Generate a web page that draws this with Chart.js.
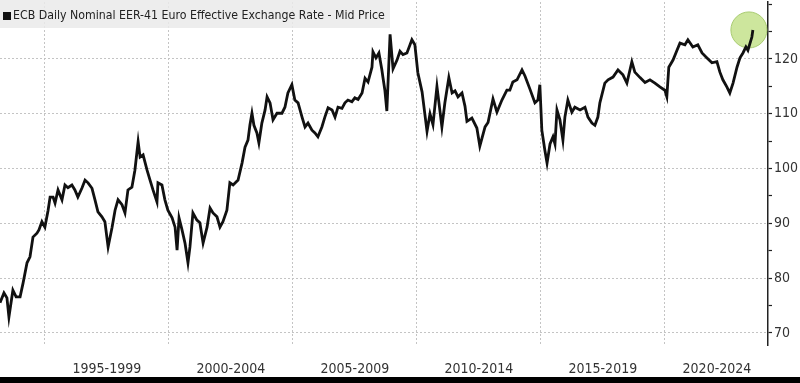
<!DOCTYPE html>
<html>
<head>
<meta charset="utf-8">
<title>ECB Daily Nominal EER-41</title>
<script src="https://cdn.jsdelivr.net/npm/chart.js@4"></script>
<style>
    body { margin: 0; background: #fff; }
    canvas { display: block; }
</style>
</head>
<body>
<canvas id="eerChart" width="800" height="383"></canvas>
<script>
const seriesName = "ECB Daily Nominal EER-41 Euro Effective Exchange Rate - Mid Price";

// dates as decimal years
const dates = [1993.19, 1993.35, 1993.47, 1993.55, 1993.71, 1993.84, 1994.00, 1994.12, 1994.28, 1994.40,
    1994.52, 1994.68, 1994.76, 1994.88, 1995.00, 1995.13, 1995.21, 1995.33, 1995.41, 1995.53,
    1995.69, 1995.81, 1995.93, 1996.09, 1996.21, 1996.33, 1996.50, 1996.62, 1996.74, 1996.90,
    1997.02, 1997.14, 1997.30, 1997.42, 1997.55, 1997.71, 1997.83, 1997.95, 1998.11, 1998.23,
    1998.35, 1998.51, 1998.63, 1998.76, 1998.84, 1998.96, 1999.12, 1999.24, 1999.36, 1999.52,
    1999.56, 1999.72, 1999.84, 1999.96, 2000.13, 2000.25, 2000.33, 2000.41, 2000.53, 2000.65,
    2000.77, 2000.85, 2000.97, 2001.13, 2001.25, 2001.38, 2001.54, 2001.66, 2001.78, 2001.94,
    2002.06, 2002.18, 2002.34, 2002.46, 2002.59, 2002.79, 2002.95, 2003.07, 2003.19, 2003.27,
    2003.35, 2003.43, 2003.55, 2003.63, 2003.75, 2003.88, 2003.96, 2004.08, 2004.20, 2004.36,
    2004.56, 2004.68, 2004.80, 2004.96, 2005.08, 2005.21, 2005.37, 2005.49, 2005.61, 2005.77,
    2005.89, 2006.01, 2006.17, 2006.29, 2006.42, 2006.58, 2006.70, 2006.82, 2006.98, 2007.10,
    2007.22, 2007.38, 2007.50, 2007.63, 2007.79, 2007.91, 2008.03, 2008.19, 2008.23, 2008.35,
    2008.47, 2008.59, 2008.63, 2008.71, 2008.79, 2008.92, 2009.04, 2009.20, 2009.32, 2009.44,
    2009.60, 2009.80, 2009.92, 2010.04, 2010.21, 2010.41, 2010.53, 2010.65, 2010.81, 2011.01,
    2011.13, 2011.29, 2011.42, 2011.54, 2011.66, 2011.82, 2011.94, 2012.02, 2012.22, 2012.42,
    2012.54, 2012.75, 2012.87, 2013.07, 2013.23, 2013.43, 2013.63, 2013.75, 2013.87, 2014.04,
    2014.24, 2014.36, 2014.56, 2014.76, 2014.88, 2014.96, 2015.04, 2015.16, 2015.25, 2015.37,
    2015.49, 2015.57, 2015.65, 2015.77, 2015.89, 2015.97, 2016.09, 2016.25, 2016.37, 2016.58,
    2016.78, 2016.90, 2017.06, 2017.18, 2017.30, 2017.38, 2017.58, 2017.71, 2017.91, 2018.11,
    2018.31, 2018.47, 2018.67, 2018.79, 2019.00, 2019.20, 2019.40, 2019.60, 2019.80, 2020.00,
    2020.08, 2020.16, 2020.33, 2020.49, 2020.61, 2020.81, 2020.93, 2021.13, 2021.33, 2021.50,
    2021.70, 2021.90, 2022.10, 2022.22, 2022.34, 2022.50, 2022.62, 2022.75, 2022.91, 2023.03,
    2023.15, 2023.27, 2023.35, 2023.51, 2023.55];

const eerValues = [75.5, 77.3, 76.4, 72.9, 77.8, 76.6, 76.6, 79.1, 82.8, 83.9,
    87.5, 88.2, 88.8, 90.3, 89.3, 92.4, 94.8, 94.8, 93.7, 96.1,
    94.3, 97.0, 96.5, 97.0, 96.1, 94.8, 96.5, 97.9, 97.4, 96.4,
    94.3, 92.1, 91.2, 90.3, 85.7, 89.3, 92.4, 94.3, 93.4, 91.9,
    96.1, 96.6, 99.7, 104.9, 102.1, 102.5, 99.7, 97.9, 96.1, 93.9,
    97.4, 97.0, 94.3, 92.4, 91.0, 89.3, 85.1, 91.0, 88.8, 86.4,
    82.8, 85.7, 91.9, 90.6, 90.1, 86.4, 89.3, 92.8, 91.9, 91.2,
    89.3, 90.3, 92.4, 97.4, 97.0, 97.9, 101.0, 103.9, 105.2, 108.0,
    110.1, 107.9, 106.5, 104.7, 108.3, 110.7, 113.1, 112.0, 108.9, 110.1,
    110.1, 111.2, 113.8, 115.3, 112.5, 112.0, 109.4, 107.6, 108.3, 107.0,
    106.5, 105.8, 107.6, 109.4, 111.1, 110.7, 109.4, 111.2, 111.0, 112.0,
    112.5, 112.2, 112.9, 112.6, 113.8, 116.5, 115.8, 118.5, 121.3, 120.2,
    121.1, 118.0, 116.7, 114.3, 110.5, 124.5, 118.2, 119.8, 121.4, 120.8,
    121.1, 123.5, 122.6, 117.5, 114.0, 106.8, 110.0, 108.0, 115.0, 107.6,
    112.0, 116.6, 113.8, 114.2, 113.1, 113.8, 111.4, 108.6, 109.2, 107.4,
    104.1, 107.6, 108.4, 112.7, 110.3, 112.5, 114.3, 114.3, 115.8, 116.2,
    118.0, 116.9, 114.5, 112.0, 112.5, 115.3, 107.0, 103.4, 101.0, 104.5,
    105.8, 104.5, 110.7, 108.9, 105.2, 109.4, 112.5, 110.3, 111.2, 110.7,
    111.2, 109.4, 108.3, 107.9, 109.4, 112.0, 115.6, 116.2, 116.7, 118.0,
    117.1, 115.6, 119.5, 117.6, 116.6, 115.7, 116.2, 115.6, 114.9, 114.3,
    113.1, 118.5, 119.8, 121.6, 122.9, 122.6, 123.5, 122.2, 122.6, 121.1,
    120.2, 119.3, 119.5, 117.6, 116.2, 114.9, 113.8, 115.6, 118.5, 120.2,
    121.1, 122.2, 121.6, 124.0, 125.3];

// green highlight around the latest reading
const highlightX = [2023.39];
const highlightY = [125.3];

// axis ticks and labels
const xGridYears = [1995, 2000, 2005, 2010, 2015, 2020];
const periodLabels = ["1995-1999", "2000-2004", "2005-2009", "2010-2014", "2015-2019", "2020-2024"];
const periodCenters = [1997.5, 2002.5, 2007.5, 2012.5, 2017.5, 2022.1];
const yTickValues = [70, 75, 80, 85, 90, 95, 100, 105, 110, 115, 120, 125, 130];
const yLabelValues = [70, 80, 90, 100, 110, 120];

const fontFamily = "'DejaVu Sans Condensed', 'DejaVu Sans', sans-serif";

// Plugin for the title box and the black bar at the bottom
const framePlugin = {
    id: "frame",
    beforeDraw(chart) {
        let ctx = chart.ctx;
        ctx.save();
        ctx.fillStyle = "#fff";
        ctx.fillRect(0, 0, chart.width, chart.height);
        ctx.restore();
    },
    beforeDatasetsDraw(chart) {
        let ctx = chart.ctx;
        ctx.save();
        ctx.fillStyle = "rgba(234, 234, 234, 0.85)";
        ctx.fillRect(0, 0, 390, 28);

        ctx.fillStyle = "#111";
        ctx.fillRect(3, 12, 8, 8);

        // fit the text to the width it has in the picture
        ctx.font = "11px " + fontFamily;
        let w = ctx.measureText(seriesName).width;
        let size = 11 * 372 / w;
        ctx.font = size.toFixed(2) + "px " + fontFamily;
        ctx.fillStyle = "#222";
        ctx.textBaseline = "middle";
        ctx.fillText(seriesName, 13, 16);
        ctx.restore();
    },
    afterDraw(chart) {
        let ctx = chart.ctx;
        ctx.save();
        ctx.fillStyle = "#000";
        ctx.fillRect(0, 377, chart.width, 6);
        ctx.restore();
    }
};

let ctx = document.getElementById("eerChart").getContext("2d");

let eerChart = new Chart(ctx, {
    type: "line",
    data: {
        datasets: [
            {
                label: seriesName,
                data: dates.map((d, i) => ({ x: d, y: eerValues[i] })),
                borderColor: "#111",
                borderWidth: 2.8,
                pointRadius: 0,
                tension: 0,
            },
            {
                label: "highlight",
                type: "scatter",
                data: highlightX.map((d, i) => ({ x: d, y: highlightY[i] })),
                pointRadius: 18,
                pointHoverRadius: 18,
                backgroundColor: "rgba(196, 226, 140, 0.85)",
                borderColor: "#a9cc72",
                borderWidth: 1,
            },
        ],
    },
    options: {
        responsive: false,
        animation: false,
        layout: { autoPadding: false, padding: { top: 2, left: 0, right: 0, bottom: 0 } },
        plugins: {
            legend: { display: false },
            tooltip: { enabled: false },
        },
        scales: {
            x: {
                type: "linear",
                min: 1993.19,
                max: 2024.16,
                afterBuildTicks: (scale) => {
                    let all = xGridYears.concat(periodCenters).sort((a, b) => a - b);
                    scale.ticks = all.map(v => ({ value: v }));
                },
                afterFit: (scale) => {
                    scale.height = 38;
                    scale.paddingLeft = 0;
                    scale.paddingRight = 0;
                },
                border: { display: false, dash: [2, 2] },
                grid: {
                    drawTicks: false,
                    color: (c) => (c.tick && xGridYears.includes(c.tick.value)) ? "#c4c4c4" : "transparent",
                    lineWidth: 1,
                },
                ticks: {
                    autoSkip: false,
                    maxRotation: 0,
                    padding: 16,
                    color: "#333",
                    font: { family: fontFamily, size: 14 },
                    callback: (value) => {
                        let i = periodCenters.indexOf(value);
                        return i >= 0 ? periodLabels[i] : "";
                    },
                },
            },
            y: {
                position: "right",
                min: 67.8,
                max: 130.4,
                afterBuildTicks: (scale) => {
                    scale.ticks = yTickValues.map(v => ({ value: v }));
                },
                afterFit: (scale) => {
                    scale.width = 32;
                    scale.paddingTop = 0;
                    scale.paddingBottom = 0;
                },
                border: { display: true, color: "#222", width: 1.5, dash: [2, 2] },
                grid: {
                    color: (c) => (c.tick && yLabelValues.includes(c.tick.value)) ? "#c4c4c4" : "transparent",
                    lineWidth: 1,
                    tickLength: 4,
                    tickColor: "#222",
                    tickWidth: 1.2,
                },
                ticks: {
                    padding: 2,
                    color: "#333",
                    font: { family: fontFamily, size: 14 },
                    callback: (value) => yLabelValues.includes(value) ? String(value) : "",
                },
            },
        },
    },
    plugins: [framePlugin],
});
</script>
</body>
</html>
